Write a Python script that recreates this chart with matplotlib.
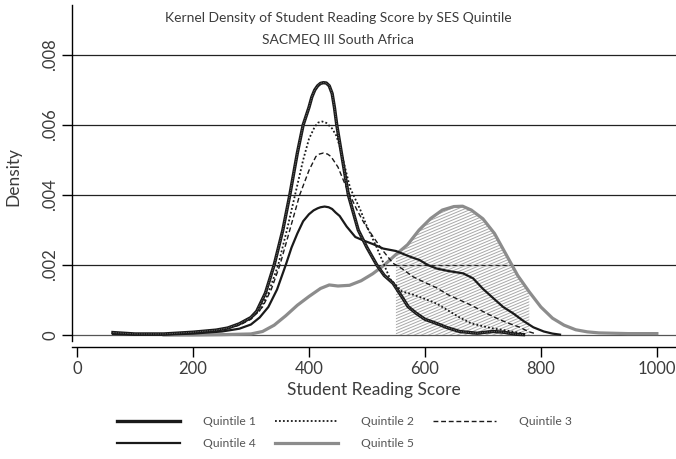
import numpy as np
import matplotlib
matplotlib.use("Agg")
import matplotlib.pyplot as plt
from matplotlib.lines import Line2D
from matplotlib.collections import LineCollection

plt.rcParams["font.family"] = ["Lato", "DejaVu Sans"]

# ---- data ----
q1_x = [62, 100, 150, 200, 240, 260, 280, 300, 310, 325, 340, 355, 367, 380, 390, 400, 405, 410,
        415, 420, 425, 430, 435, 440, 444, 448, 458, 468, 485, 500, 517, 530, 545, 560, 571, 585,
        600, 620, 640, 660, 690, 705, 718, 735, 758, 770]
q1_y = [0.00007, 0.00003, 0.00003, 0.00008, 0.00014, 0.0002, 0.00032, 0.0005, 0.00068, 0.0012,
        0.002, 0.003, 0.004, 0.0052, 0.006, 0.0065, 0.0068, 0.007, 0.00712, 0.00719, 0.00721,
        0.0072, 0.00712, 0.0069, 0.0065, 0.006, 0.005, 0.004, 0.003, 0.0025, 0.002, 0.0017,
        0.00148, 0.0011, 0.00081, 0.00062, 0.00045, 0.00033, 0.0002, 0.0001, 0.00005, 0.00008,
        0.0001, 0.00008, 0.00002, 0.00001]

q2_x = [62, 100, 150, 200, 240, 260, 280, 300, 315, 330, 347, 362, 376, 390, 400, 410, 416, 423,
        430, 440, 447, 453, 462, 471, 488, 500, 517, 540, 560, 580, 600, 620, 640, 660, 680, 700,
        720, 740, 760, 775]
q2_y = [0.00005, 0.00002, 0.00003, 0.00008, 0.00014, 0.0002, 0.0003, 0.00048, 0.0007, 0.0012,
        0.002, 0.003, 0.004, 0.005, 0.0056, 0.00595, 0.00607, 0.0061, 0.00606, 0.0059, 0.0057,
        0.0054, 0.0048, 0.0042, 0.0036, 0.0031, 0.0025, 0.0016, 0.00125, 0.00115, 0.00103, 0.0009,
        0.0007, 0.0005, 0.00033, 0.00025, 0.00018, 0.00013, 0.00007, 0.00002]

q3_x = [62, 100, 150, 200, 240, 260, 280, 300, 320, 335, 350, 367, 384, 400, 412, 418, 425, 432,
        438, 444, 450, 465, 482, 495, 511, 528, 545, 560, 580, 600, 620, 640, 660, 680, 706, 730,
        750, 764, 778, 790]
q3_y = [0.00005, 0.00002, 0.00002, 0.00007, 0.00013, 0.00019, 0.00028, 0.00045, 0.0008, 0.0013,
        0.002, 0.003, 0.004, 0.0047, 0.0051, 0.00517, 0.0052, 0.00517, 0.0051, 0.00495, 0.0048,
        0.0042, 0.0036, 0.0032, 0.0028, 0.0024, 0.00205, 0.0019, 0.00166, 0.0015, 0.00135,
        0.00115, 0.001, 0.00085, 0.00062, 0.00043, 0.0003, 0.00022, 0.0001, 0.00004]

q4_x = [62, 100, 150, 200, 250, 280, 300, 315, 330, 345, 360, 370, 380, 390, 400, 408, 415, 420,
        427, 434, 440, 446, 453, 465, 480, 494, 510, 528, 550, 574, 591, 605, 620, 640, 666, 683,
        700, 718, 735, 752, 770, 787, 805, 820, 833]
q4_y = [0.00003, 0.00001, 0.00001, 0.00004, 0.0001, 0.00018, 0.0003, 0.0005, 0.0008, 0.0013,
        0.002, 0.0025, 0.0029, 0.00325, 0.00345, 0.00356, 0.00362, 0.00365, 0.00367, 0.00365,
        0.0036, 0.0035, 0.0034, 0.0031, 0.0028, 0.0027, 0.0026, 0.00247, 0.0024, 0.00224,
        0.00214, 0.002, 0.0019, 0.00183, 0.00176, 0.00162, 0.00132, 0.00105, 0.0008, 0.00062,
        0.0004, 0.00022, 0.0001, 0.00004, 0.00001]

q5_x = [150, 200, 250, 300, 320, 340, 360, 380, 400, 420, 435, 450, 470, 490, 510, 530, 550, 570,
        590, 610, 630, 650, 665, 680, 700, 720, 740, 760, 780, 800, 820, 840, 860, 880, 900, 950, 1000]
q5_y = [0.0, 0.0, 0.00001, 0.00003, 0.0001, 0.00028, 0.00055, 0.00085, 0.0011, 0.00133, 0.00143,
        0.0014, 0.00142, 0.00155, 0.00175, 0.002, 0.0023, 0.00258, 0.003, 0.00333, 0.00357,
        0.00367, 0.00368, 0.00357, 0.00332, 0.0029, 0.0023, 0.0017, 0.00123, 0.0008, 0.00048,
        0.00028, 0.00015, 0.00009, 0.00006, 0.00004, 0.00004]

shade_lo, shade_hi = 550, 780

y_ticks = [0, 0.002, 0.004, 0.006, 0.008]
y_tick_labels = ["0", ".002", ".004", ".006", ".008"]
x_ticks = [0, 200, 400, 600, 800, 1000]
x_tick_labels = ["0", "200", "400", "600", "800", "1000"]
labels = ["Quintile 1", "Quintile 2", "Quintile 3", "Quintile 4", "Quintile 5"]

# ---- figure ----
W, H = 676, 459
XL = (-8.6, 1033)
YL = (-0.000343, 0.009429)
fig = plt.figure(figsize=(W / 100, H / 100), dpi=100)
ax = fig.add_axes([72 / W, 1 - 347 / H, (W - 72) / W, (347 - 5) / H])
ax.set_xlim(*XL)
ax.set_ylim(*YL)

txtc = "#3c3c3c"
# gridlines
for yt in y_ticks:
    ax.axhline(yt, color="#222222" if yt > 0 else "#555555", lw=0.9, zorder=1)

# hatched region under Quintile 5
x5 = np.array(q5_x, float)
y5 = np.array(q5_y, float)
m = (x5 >= shade_lo) & (x5 <= shade_hi)
poly = ax.fill_between(x5[m], 0, y5[m], facecolor="none", edgecolor="none", zorder=2)
px_x = (W - 72) / (XL[1] - XL[0])
px_y = (347 - 5) / (YL[1] - YL[0])
slope = 0.42 * px_x / px_y  # data dy per data dx
sp = 3.0 / px_y
segs = []
for off in np.arange(-0.006, 0.006, sp):
    segs.append([(shade_lo - 5, off), (shade_hi + 5, off + slope * (shade_hi - shade_lo + 10))])
lc = LineCollection(segs, colors="#a8a8a8", linewidths=0.7, zorder=2)
ax.add_collection(lc)
lc.set_clip_path(poly.get_paths()[0], poly.get_transform())

# curves
kw = dict(solid_joinstyle="round", dash_joinstyle="round")
ax.plot(q5_x, q5_y, color="#8c8c8c", lw=2.3, zorder=3, **kw)
ax.plot(q4_x, q4_y, color="#1a1a1a", lw=1.6, zorder=4, **kw)
ax.plot(q3_x, q3_y, color="#1a1a1a", lw=1.0, ls=(0, (3.5, 2)), zorder=4, **kw)
ax.plot(q2_x, q2_y, color="#1a1a1a", lw=1.3, ls=(0, (1, 1.2)), zorder=4, **kw)
ax.plot(q1_x, q1_y, color="#1a1a1a", lw=2.4, zorder=5, **kw)
ax.plot(q1_x, q1_y, color="#8a8a8a", lw=0.7, ls=(0, (0.6, 1.2)), zorder=6, **kw)

# axes styling
for s in ["top", "right"]:
    ax.spines[s].set_visible(False)
ax.spines["left"].set_bounds(-0.00017, YL[1])
ax.spines["left"].set_linewidth(1.0)
ax.spines["bottom"].set_linewidth(1.0)
ax.set_yticks(y_ticks)
ax.set_yticklabels(y_tick_labels, rotation=90, va="center", color=txtc, fontsize=12)
ax.set_xticks(x_ticks)
ax.set_xticklabels(x_tick_labels, color=txtc, fontsize=12)
ax.tick_params(axis="both", length=7, width=1.0, pad=3)
ax.set_xlabel("Student Reading Score", color=txtc, fontsize=12.5, labelpad=4)
ax.set_ylabel("Density", color=txtc, fontsize=12.5, labelpad=15)

fig.text(0.5, 1 - 18 / H, "Kernel Density of Student Reading Score by SES Quintile",
         ha="center", va="center", color=txtc, fontsize=10.0)
fig.text(0.5, 1 - 40 / H, "SACMEQ III South Africa",
         ha="center", va="center", color=txtc, fontsize=10.0)

# legend
h1 = Line2D([], [], color="#1a1a1a", lw=2.4)
h2 = Line2D([], [], color="#1a1a1a", lw=1.3, ls=(0, (1, 1.2)))
h3 = Line2D([], [], color="#1a1a1a", lw=1.0, ls=(0, (3.5, 2)))
h4 = Line2D([], [], color="#1a1a1a", lw=1.6)
h5 = Line2D([], [], color="#8c8c8c", lw=2.3)
hs = [h1, h2, h3, h4, h5]
order = [0, 3, 1, 4, 2]
leg = fig.legend([hs[i] for i in order], [labels[i] for i in order], ncol=3,
                 loc="upper left", bbox_to_anchor=(117 / W, 1 - 416 / H), frameon=False,
                 fontsize=8.7, handlelength=5.2, handletextpad=1.9, columnspacing=1.6,
                 labelspacing=0.9, borderpad=0, borderaxespad=0)
for t in leg.get_texts():
    t.set_color("#555555")

fig.savefig("out.png", dpi=100)
